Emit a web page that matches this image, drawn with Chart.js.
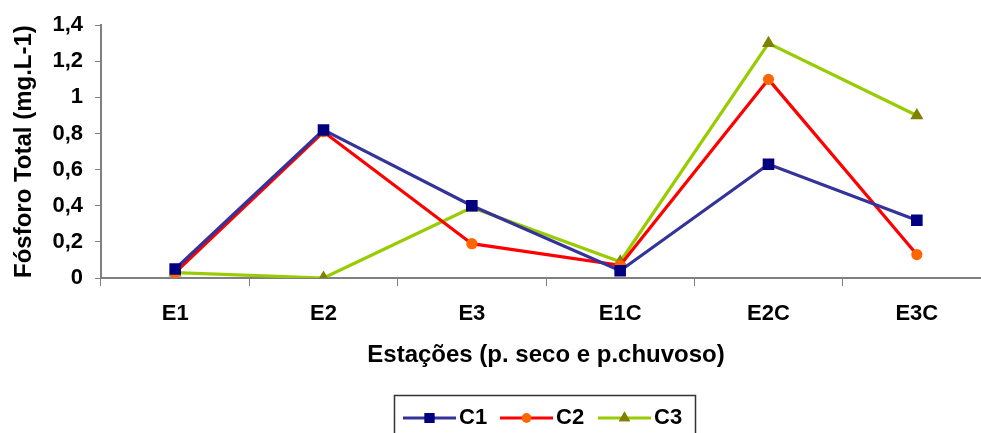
<!DOCTYPE html>
<html>
<head>
<meta charset="utf-8">
<script src="https://cdn.jsdelivr.net/npm/chart.js@4.4.1/dist/chart.umd.min.js"></script>
<style>
  html, body { margin: 0; padding: 0; background: #fff; overflow: hidden; }
  #wrap { width: 1000px; height: 445px; position: relative; }
</style>
</head>
<body>
<div id="wrap"><canvas id="chart"></canvas></div>
<script>
// Stations sampled in the dry and rainy periods
const categories = ['E1', 'E2', 'E3', 'E1C', 'E2C', 'E3C'];
// Total phosphorus (mg.L-1) per campaign
const c1 = [0.05, 0.82, 0.40, 0.04, 0.63, 0.32];
const c2 = [0.03, 0.81, 0.19, 0.07, 1.10, 0.13];
const c3 = [0.03, 0.00, 0.39, 0.09, 1.30, 0.90];
const seriesNames = ['C1', 'C2', 'C3'];
const yTickValues = [0, 0.2, 0.4, 0.6, 0.8, 1, 1.2, 1.4];

const FONT = '"Liberation Sans", Arial, sans-serif';

const styles = [
  { line: '#333399', point: '#000080', shape: 'rect', r: 8.2 },
  { line: '#FF0000', point: '#FF6600', shape: 'circle', r: 5.6 },
  { line: '#99CC00', point: '#808000', shape: 'triangle', r: 7.6 }
];

const datasets = [c1, c2, c3].map((vals, i) => ({
  label: seriesNames[i],
  data: vals,
  borderColor: styles[i].line,
  borderWidth: 3.2,
  backgroundColor: styles[i].point,
  pointBackgroundColor: styles[i].point,
  pointBorderColor: styles[i].point,
  pointBorderWidth: 0,
  pointStyle: styles[i].shape,
  pointRadius: styles[i].r,
  pointHoverRadius: styles[i].r,
  tension: 0,
  fill: false
}));

// Boxed legend with line + marker samples beneath the axis title
const boxedLegend = {
  id: 'boxedLegend',
  afterDraw(chart) {
    const ctx = chart.ctx;
    ctx.save();
    ctx.strokeStyle = '#333';
    ctx.lineWidth = 1.5;
    ctx.strokeRect(394.5, 395.5, 301, 50);
    const cy = 418;
    const xs = [403, 500, 598];
    ctx.font = 'bold 22px ' + FONT;
    ctx.textBaseline = 'middle';
    ctx.textAlign = 'left';
    seriesNames.forEach((name, i) => {
      const s = styles[i];
      const x0 = xs[i];
      ctx.strokeStyle = s.line;
      ctx.lineWidth = 3;
      ctx.beginPath();
      ctx.moveTo(x0, cy);
      ctx.lineTo(x0 + 53, cy);
      ctx.stroke();
      ctx.fillStyle = s.point;
      Chart.helpers.drawPoint(ctx, { pointStyle: s.shape, radius: s.r * 0.85, borderWidth: 0 }, x0 + 26.5, cy);
      ctx.fill();
      ctx.fillStyle = '#000';
      ctx.fillText(name, x0 + 56, cy);
    });
    ctx.restore();
  }
};

new Chart(document.getElementById('chart'), {
  type: 'line',
  data: { labels: categories, datasets },
  plugins: [boxedLegend],
  options: {
    responsive: true,
    maintainAspectRatio: false,
    animation: false,
    layout: { padding: { top: 15, right: 9, bottom: 67, left: 0 } },
    plugins: {
      legend: { display: false },
      tooltip: { enabled: false }
    },
    scales: {
      x: {
        offset: true,
        grid: {
          display: true,
          drawOnChartArea: false,
          drawTicks: true,
          tickLength: 8,
          offset: true,
          color: '#808080',
          lineWidth: 1
        },
        border: { color: '#808080', width: 2 },
        ticks: {
          color: '#000',
          font: { family: FONT, size: 22, weight: 'bold' },
          padding: 15,
          maxRotation: 0
        },
        title: {
          display: true,
          text: 'Estações (p. seco e p.chuvoso)',
          color: '#000',
          font: { family: FONT, size: 24, weight: 'bold' },
          padding: { top: 0, bottom: 8 }
        },
        afterFit(scale) { scale.height = 100; }
      },
      y: {
        min: 0,
        max: 1.4,
        afterBuildTicks(scale) { scale.ticks = yTickValues.map(v => ({ value: v })); },
        grid: {
          display: true,
          drawOnChartArea: false,
          drawTicks: true,
          tickLength: 6,
          color: '#808080'
        },
        border: { color: '#808080', width: 2 },
        ticks: {
          color: '#000',
          font: { family: FONT, size: 22, weight: 'bold' },
          padding: 12,
          callback: v => String(Math.round(v * 10) / 10).replace('.', ',')
        },
        title: {
          display: true,
          text: 'Fósforo Total (mg.L-1)',
          color: '#000',
          font: { family: FONT, size: 24, weight: 'bold' },
          padding: { top: 10, bottom: 0 }
        },
        afterFit(scale) { scale.width = 101; }
      }
    }
  }
});
</script>
</body>
</html>
